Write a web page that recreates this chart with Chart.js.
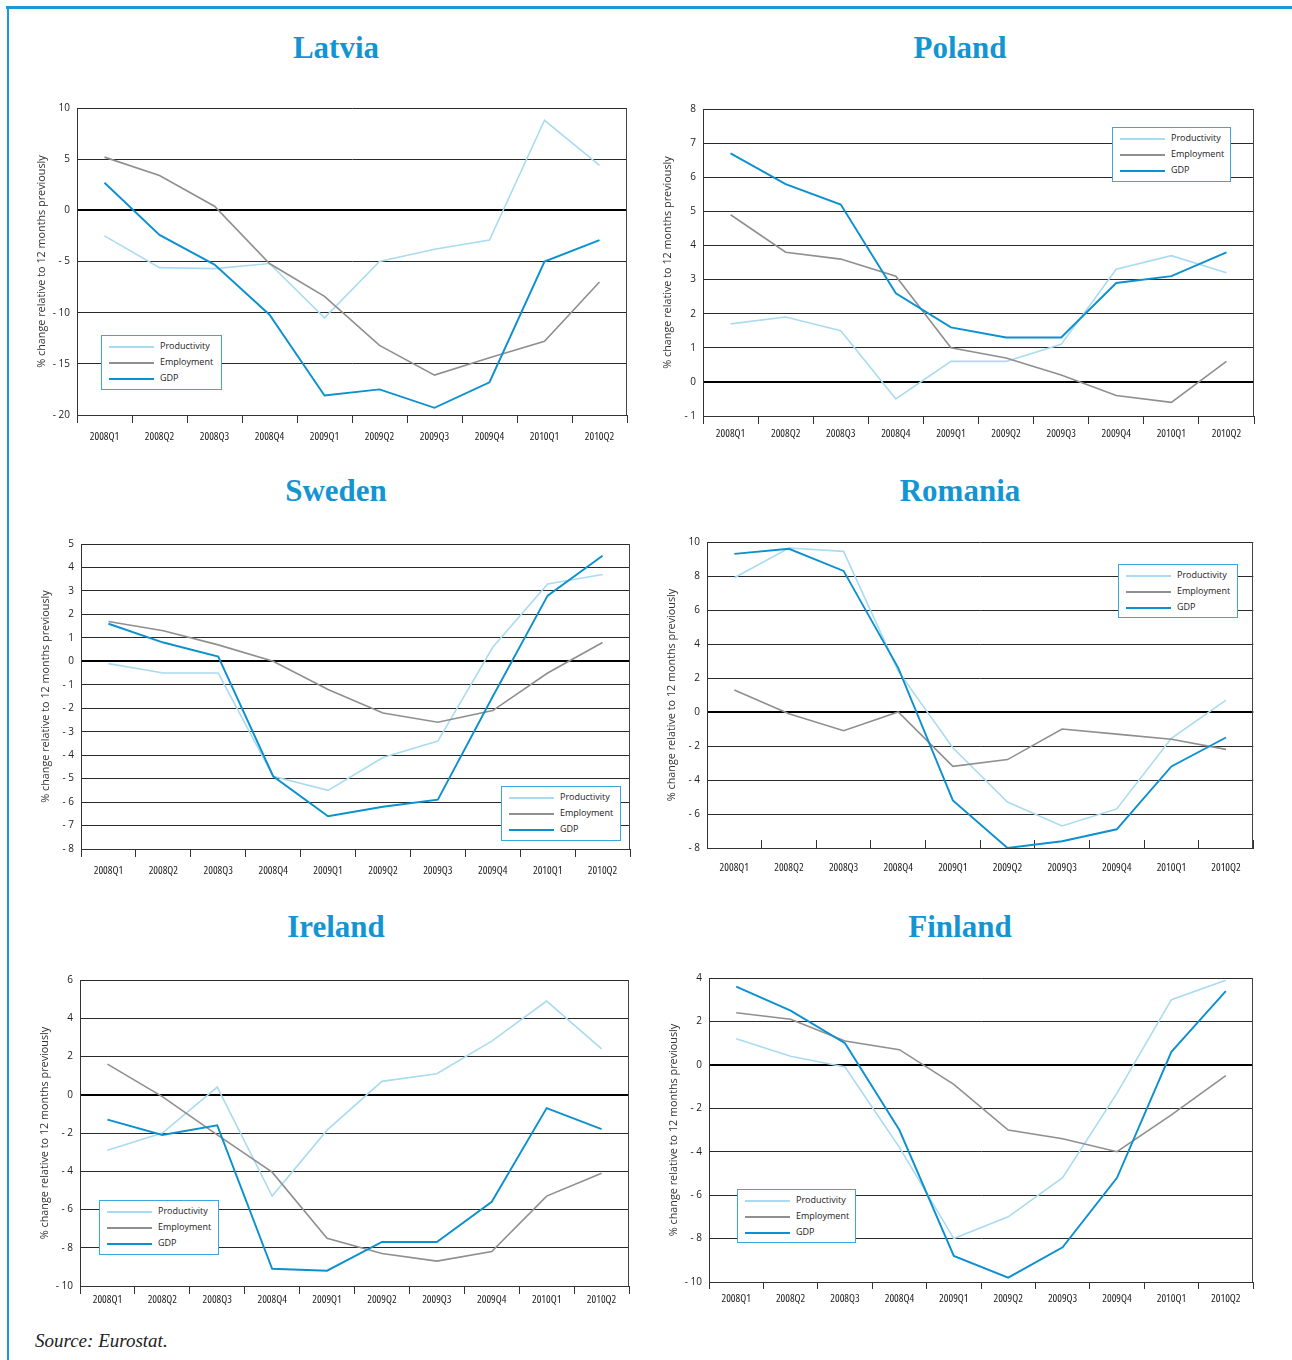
<!DOCTYPE html>
<html>
<head>
<meta charset="utf-8">
<script src="https://cdn.jsdelivr.net/npm/chart.js@4.4.0/dist/chart.umd.min.js"></script>
<style>
  html, body { margin: 0; padding: 0; background: #fff; }
  body { width: 1292px; height: 1360px; position: relative; overflow: hidden; font-family: 'Open Sans', sans-serif; }
  .frame-top { position: absolute; left: 6px; top: 6px; width: 1286px; height: 2.5px; background: #1a9ad6; }
  .frame-left { position: absolute; left: 6.5px; top: 6px; width: 2.5px; height: 1354px; background: #1a9ad6; }
  .title { position: absolute; width: 400px; text-align: center; font-family: 'Liberation Serif', serif; font-weight: bold; font-size: 31px; line-height: 31px; color: #1495d3; }
  .wrap { position: absolute; }
  .legend { position: absolute; box-sizing: border-box; border: 1.5px solid #3aa8de; background: #fff; }
  .legend .row { position: absolute; left: 0; height: 0; }
  .legend .swatch { position: absolute; left: 7px; width: 45px; }
  .legend .lbl { position: absolute; left: 58px; top: -7px; font-family: 'Open Sans', sans-serif; font-size: 9px; line-height: 12px; color: #222; white-space: nowrap; }
  .source { position: absolute; left: 35px; top: 1331px; font-family: 'Liberation Serif', serif; font-style: italic; font-size: 19px; line-height: 19px; color: #222; }
</style>
</head>
<body>
<div class="frame-top"></div>
<div class="frame-left"></div>
<div class="source">Source: Eurostat.</div>
<script>
// ---------- data ----------
const categories = ['2008Q1','2008Q2','2008Q3','2008Q4','2009Q1','2009Q2','2009Q3','2009Q4','2010Q1','2010Q2'];
const seriesNames = ['Productivity','Employment','GDP'];
const yTitle = '% change relative to 12 months previously';

const latviaProductivity = [-2.5, -5.6, -5.7, -5.2, -10.5, -5.0, -3.8, -2.9, 8.8, 4.4];
const latviaEmployment   = [5.2, 3.4, 0.4, -5.2, -8.4, -13.2, -16.1, -14.4, -12.8, -7.0];
const latviaGDP          = [2.7, -2.4, -5.3, -10.2, -18.1, -17.5, -19.3, -16.8, -5.0, -2.9];
const latviaTicks        = [10, 5, 0, -5, -10, -15, -20];

const polandProductivity = [1.7, 1.9, 1.5, -0.5, 0.6, 0.6, 1.1, 3.3, 3.7, 3.2];
const polandEmployment   = [4.9, 3.8, 3.6, 3.1, 1.0, 0.7, 0.2, -0.4, -0.6, 0.6];
const polandGDP          = [6.7, 5.8, 5.2, 2.6, 1.6, 1.3, 1.3, 2.9, 3.1, 3.8];
const polandTicks        = [8, 7, 6, 5, 4, 3, 2, 1, 0, -1];

const swedenProductivity = [-0.1, -0.5, -0.5, -4.9, -5.5, -4.1, -3.4, 0.6, 3.3, 3.7];
const swedenEmployment   = [1.7, 1.3, 0.7, 0.0, -1.2, -2.2, -2.6, -2.1, -0.5, 0.8];
const swedenGDP          = [1.6, 0.8, 0.2, -4.9, -6.6, -6.2, -5.9, -1.5, 2.8, 4.5];
const swedenTicks        = [5, 4, 3, 2, 1, 0, -1, -2, -3, -4, -5, -6, -7, -8];

const romaniaProductivity = [7.9, 9.65, 9.45, 2.4, -2.1, -5.3, -6.7, -5.7, -1.55, 0.7];
const romaniaEmployment   = [1.3, -0.1, -1.1, 0.0, -3.2, -2.8, -1.0, -1.3, -1.6, -2.2];
const romaniaGDP          = [9.3, 9.6, 8.3, 2.6, -5.2, -8.0, -7.6, -6.9, -3.2, -1.5];
const romaniaTicks        = [10, 8, 6, 4, 2, 0, -2, -4, -6, -8];

const irelandProductivity = [-2.9, -2.0, 0.4, -5.3, -1.85, 0.7, 1.1, 2.8, 4.9, 2.4];
const irelandEmployment   = [1.6, -0.1, -2.1, -4.05, -7.5, -8.3, -8.7, -8.2, -5.3, -4.1];
const irelandGDP          = [-1.3, -2.1, -1.6, -9.1, -9.2, -7.7, -7.7, -5.6, -0.7, -1.8];
const irelandTicks        = [6, 4, 2, 0, -2, -4, -6, -8, -10];

const finlandProductivity = [1.2, 0.4, -0.1, -3.8, -8.0, -7.0, -5.2, -1.3, 3.0, 3.9];
const finlandEmployment   = [2.4, 2.1, 1.1, 0.7, -0.9, -3.0, -3.4, -4.0, -2.3, -0.5];
const finlandGDP          = [3.6, 2.5, 1.0, -3.0, -8.8, -9.8, -8.4, -5.2, 0.6, 3.4];
const finlandTicks        = [4, 2, 0, -2, -4, -6, -8, -10];

// ---------- styles / layout ----------
const COLORS = { Productivity: '#a9dbf1', Employment: '#8f8f8f', GDP: '#0b90d0' };
const WIDTHS = { Productivity: 1.6, Employment: 1.6, GDP: 1.9 };
const ORDERS = { Productivity: 2, Employment: 1, GDP: 0 };

const panels = [
  { name: 'Latvia',  cx: 336, titleTop: 32,  plot: {l: 77,  t: 107, r: 627,  b: 415},  tickLen: 8,  tickPad: 7,  legend: {l: 101,  t: 335,  w: 121, h: 55},
    series: [latviaProductivity, latviaEmployment, latviaGDP], ticks: latviaTicks },
  { name: 'Poland',  cx: 960, titleTop: 32,  plot: {l: 703, t: 108, r: 1254, b: 416},  tickLen: 8,  tickPad: 3,  legend: {l: 1112, t: 127,  w: 119, h: 55},
    series: [polandProductivity, polandEmployment, polandGDP], ticks: polandTicks },
  { name: 'Sweden',  cx: 336, titleTop: 475, plot: {l: 81,  t: 543, r: 630,  b: 849},  tickLen: 8,  tickPad: 7,  legend: {l: 501,  t: 786,  w: 120, h: 55},
    series: [swedenProductivity, swedenEmployment, swedenGDP], ticks: swedenTicks },
  { name: 'Romania', cx: 960, titleTop: 475, plot: {l: 707, t: 541, r: 1256, b: 848},  tickLen: -8, tickPad: 21, legend: {l: 1118, t: 564,  w: 120, h: 54},
    series: [romaniaProductivity, romaniaEmployment, romaniaGDP], ticks: romaniaTicks },
  { name: 'Ireland', cx: 336, titleTop: 911, plot: {l: 80,  t: 979, r: 629,  b: 1286}, tickLen: 8,  tickPad: -1, legend: {l: 99,   t: 1200, w: 120, h: 55},
    series: [irelandProductivity, irelandEmployment, irelandGDP], ticks: irelandTicks },
  { name: 'Finland', cx: 960, titleTop: 911, plot: {l: 709, t: 977, r: 1253, b: 1282}, tickLen: 7,  tickPad: 3,  legend: {l: 737,  t: 1189, w: 119, h: 54},
    series: [finlandProductivity, finlandEmployment, finlandGDP], ticks: finlandTicks }
];

const PADL = 50, PADT = 12, PADB = 40, PADR = 6;

function fmtTick(v) { return v < 0 ? '- ' + Math.abs(v) : String(v); }

const framePlugin = {
  id: 'plotFrame',
  beforeDatasetsDraw(chart) {
    const a = chart.chartArea, ctx = chart.ctx;
    ctx.save();
    ctx.strokeStyle = '#444';
    ctx.lineWidth = 1;
    ctx.beginPath();
    ctx.moveTo(Math.round(a.right) - 0.5, a.top);
    ctx.lineTo(Math.round(a.right) - 0.5, a.bottom);
    ctx.stroke();
    ctx.restore();
  }
};

function buildPanel(p) {
  const title = document.createElement('div');
  title.className = 'title';
  title.textContent = p.name;
  title.style.left = (p.cx - 200) + 'px';
  title.style.top = p.titleTop + 'px';
  document.body.appendChild(title);

  const plotW = p.plot.r - p.plot.l, plotH = p.plot.b - p.plot.t;
  const W = plotW + PADL + PADR, H = plotH + PADT + PADB;
  const wrap = document.createElement('div');
  wrap.className = 'wrap';
  wrap.style.left = (p.plot.l - PADL) + 'px';
  wrap.style.top = (p.plot.t - PADT) + 'px';
  wrap.style.width = W + 'px';
  wrap.style.height = H + 'px';
  const canvas = document.createElement('canvas');
  canvas.width = W; canvas.height = H;
  canvas.style.width = W + 'px'; canvas.style.height = H + 'px';
  wrap.appendChild(canvas);
  document.body.appendChild(wrap);

  const yMin = Math.min(...p.ticks), yMax = Math.max(...p.ticks);

  const chart = new Chart(canvas, {
    type: 'line',
    data: {
      labels: categories,
      datasets: seriesNames.map((n, i) => ({
        label: n,
        data: p.series[i],
        borderColor: COLORS[n],
        backgroundColor: COLORS[n],
        borderWidth: WIDTHS[n],
        order: ORDERS[n],
        pointRadius: 0,
        pointHoverRadius: 0,
        tension: 0,
        fill: false
      }))
    },
    plugins: [framePlugin],
    options: {
      responsive: false,
      animation: false,
      devicePixelRatio: 1,
      events: [],
      layout: { autoPadding: false, padding: { left: PADL - 45, top: PADT, right: PADR, bottom: 0 } },
      plugins: { legend: { display: false }, title: { display: false }, tooltip: { enabled: false } },
      scales: {
        x: {
          type: 'category',
          offset: true,
          afterFit: s => { s.height = PADB; },
          grid: { offset: true, drawOnChartArea: false, drawTicks: true, tickLength: p.tickLen, color: '#333', lineWidth: 1 },
          border: { display: true, color: '#333', width: 1 },
          ticks: { padding: p.tickPad, color: '#222', maxRotation: 0, autoSkip: false,
                   font: { family: "'Open Sans', sans-serif", size: 11, weight: 'condensed' } }
        },
        y: {
          min: yMin, max: yMax,
          afterBuildTicks: s => { s.ticks = p.ticks.map(v => ({ value: v })); },
          afterFit: s => { s.width = 45; },
          grid: {
            drawTicks: false,
            color: c => (c.tick && c.tick.value === 0) ? '#000' : '#2a2a2a',
            lineWidth: c => (c.tick && c.tick.value === 0) ? 2 : 1
          },
          border: { display: true, color: '#333', width: 1 },
          ticks: { padding: 7, color: '#222', font: { family: "'Open Sans', sans-serif", size: 10 }, callback: v => fmtTick(v) },
          title: { display: true, text: yTitle, color: '#333', font: { family: "'Open Sans', sans-serif", size: 10.8 }, padding: { top: 3, bottom: 0 } }
        }
      }
    }
  });

  // legend built from chart datasets
  const lg = document.createElement('div');
  lg.className = 'legend';
  lg.style.left = p.legend.l + 'px';
  lg.style.top = p.legend.t + 'px';
  lg.style.width = p.legend.w + 'px';
  lg.style.height = p.legend.h + 'px';
  const rowY = [11, 27, 43];
  chart.data.datasets.forEach((ds, i) => {
    const row = document.createElement('div');
    row.className = 'row';
    row.style.top = rowY[i] + 'px';
    const sw = document.createElement('div');
    sw.className = 'swatch';
    const th = ds.label === 'GDP' ? 2.5 : 2;
    sw.style.height = th + 'px';
    sw.style.top = (-th / 2) + 'px';
    sw.style.background = ds.borderColor;
    const lb = document.createElement('div');
    lb.className = 'lbl';
    lb.textContent = ds.label;
    row.appendChild(sw); row.appendChild(lb);
    lg.appendChild(row);
  });
  document.body.appendChild(lg);
}

panels.forEach(buildPanel);
</script>
</body>
</html>
